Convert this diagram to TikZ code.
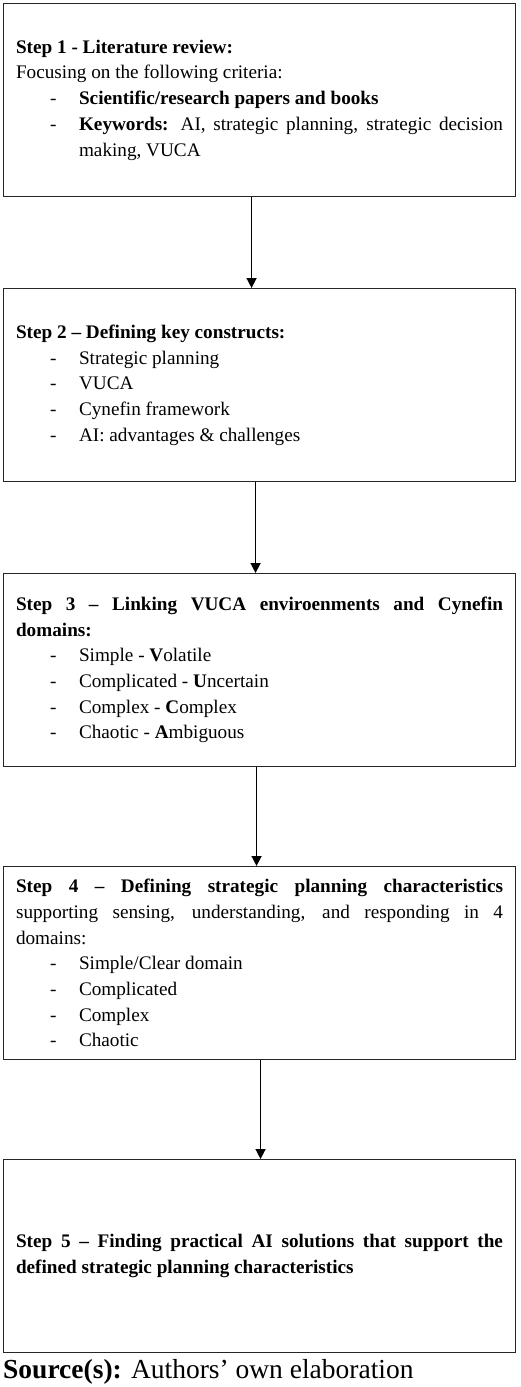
\documentclass[tikz,border=0pt]{standalone}
\usepackage{fontspec}
\setmainfont{Liberation Serif}
\usetikzlibrary{arrows.meta}
\newcommand{\myitem}[1]{\noindent\hangindent=63pt\hangafter=1\hspace*{34pt}\makebox[29pt][l]{-}#1\par}
\newcommand{\mypara}[1]{\noindent#1\par}
\tikzset{
  stepbox/.style={draw=black!85, line width=1.1pt, minimum width=512pt, minimum height=193pt,
    text width=487pt, inner xsep=12.5pt, inner ysep=0pt, align=justify,
    font=\fontsize{19.2}{25.7}\selectfont, anchor=north west},
  arr/.style={line width=1.5pt, -{Triangle[length=10pt,width=10pt]}}
}
\begin{document}
\begin{tikzpicture}[x=1pt,y=-1pt]
\useasboundingbox (0,0) rectangle (520,1387);
\fill[white] (0,0) rectangle (520,1387);
\node[stepbox] (b1) at (3,3) {\mypara{\textbf{Step 1 - Literature review:}}
\mypara{Focusing on the following criteria:}
\myitem{\textbf{Scientific/research papers and books}}
\myitem{\textbf{Keywords:} AI, strategic planning, strategic decision\linebreak making, VUCA}};
\node[stepbox] (b2) at (3,288) {\mypara{\textbf{Step 2 – Defining key constructs:}}
\myitem{Strategic planning}
\myitem{VUCA}
\myitem{Cynefin framework}
\myitem{AI: advantages \& challenges}};
\node[stepbox] (b3) at (3,573) {\mypara{\textbf{Step 3 – Linking VUCA enviroenments and Cynefin\linebreak domains:}}
\myitem{Simple - \textbf{V}olatile}
\myitem{Complicated - \textbf{U}ncertain}
\myitem{Complex - \textbf{C}omplex}
\myitem{Chaotic - \textbf{A}mbiguous}};
\node[stepbox] (b4) at (3,866) {\mypara{\textbf{Step 4 – Defining strategic planning characteristics}\linebreak supporting sensing, understanding, and responding in 4\linebreak domains:}
\myitem{Simple/Clear domain}
\myitem{Complicated}
\myitem{Complex}
\myitem{Chaotic}};
\node[stepbox] (b5) at (3,1159) {\mypara{\textbf{Step 5 – Finding practical AI solutions that support the\linebreak defined strategic planning characteristics}}};
\node[anchor=base west, inner sep=0pt, font=\fontsize{27.5}{30}\selectfont] (src) at (3,1378) {\textbf{Source(s):} Authors’ own elaboration};
\draw[arr] ([xshift=-8pt]b1.south) -- ([xshift=-8pt]b2.north);
\draw[arr] ([xshift=-4pt]b2.south) -- ([xshift=-4pt]b3.north);
\draw[arr] ([xshift=-3pt]b3.south) -- ([xshift=-3pt]b4.north);
\draw[arr] ([xshift=1pt]b4.south) -- ([xshift=1pt]b5.north);
\end{tikzpicture}
\end{document}
